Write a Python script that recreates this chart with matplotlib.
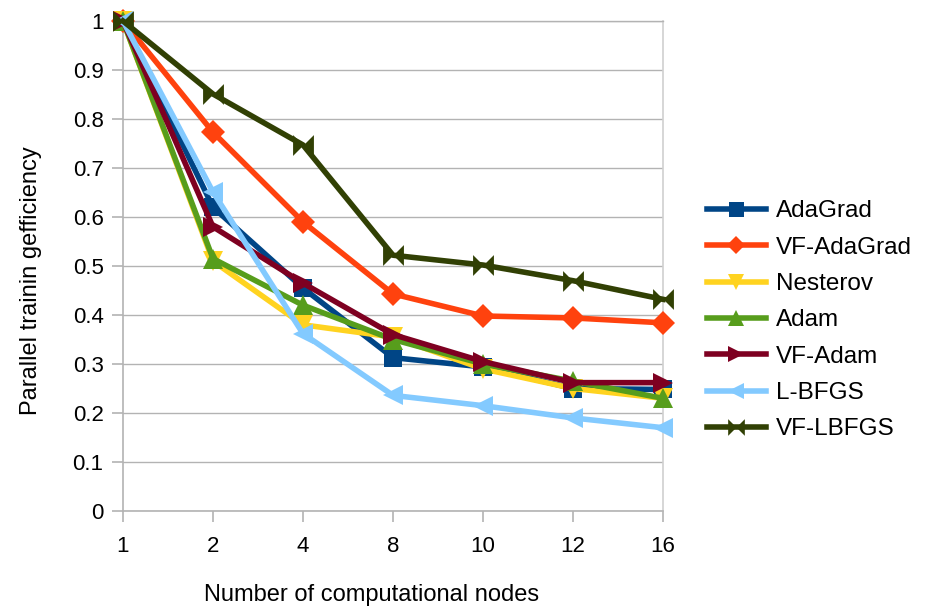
import numpy as np
import matplotlib.pyplot as plt
from matplotlib.path import Path

plt.rcParams['font.family'] = ['Liberation Sans', 'DejaVu Sans']

nodes = ["1", "2", "4", "8", "10", "12", "16"]

adagrad = [1.0, 0.62, 0.455, 0.313, 0.294, 0.25, 0.248]
vf_adagrad = [1.0, 0.773, 0.59, 0.443, 0.398, 0.394, 0.384]
nesterov = [1.0, 0.51, 0.38, 0.355, 0.29, 0.25, 0.23]
adam = [1.0, 0.515, 0.42, 0.35, 0.30, 0.265, 0.23]
vf_adam = [1.0, 0.58, 0.465, 0.36, 0.305, 0.262, 0.262]
lbfgs = [1.0, 0.651, 0.362, 0.236, 0.215, 0.19, 0.17]
vf_lbfgs = [1.0, 0.851, 0.747, 0.522, 0.502, 0.47, 0.432]

names = ["AdaGrad", "VF-AdaGrad", "Nesterov", "Adam", "VF-Adam", "L-BFGS", "VF-LBFGS"]
series = [adagrad, vf_adagrad, nesterov, adam, vf_adam, lbfgs, vf_lbfgs]
colors = ["#004586", "#ff420e", "#ffd320", "#579d1c", "#7e0021", "#83caff", "#314004"]

# bowtie marker: two triangles meeting in the middle
bowtie = Path(
    [(-1, 1), (0, 0), (-1, -1), (-1, 1), (1, 1), (0, 0), (1, -1), (1, 1)],
    [Path.MOVETO, Path.LINETO, Path.LINETO, Path.CLOSEPOLY,
     Path.MOVETO, Path.LINETO, Path.LINETO, Path.CLOSEPOLY],
)
markers = ["s", "D", "v", "^", ">", "<", bowtie]
msizes = [13.5, 12, 15, 15, 15, 15, 15]

fig = plt.figure(figsize=(9.28, 6.08), dpi=100)
ax = fig.add_axes([0.1325, 0.1595, 0.582, 0.806])

x = np.arange(len(nodes))
for vals, name, c, m, ms in zip(series, names, colors, markers, msizes):
    ax.plot(x, vals, color=c, lw=4, marker=m, markersize=ms,
            markeredgewidth=0, label=name, clip_on=False, zorder=3)

ax.set_xlim(0, len(nodes) - 1)
ax.set_ylim(0, 1)
ax.set_xticks(x)
ax.set_xticklabels(nodes)
ax.set_yticks(np.arange(0, 1.01, 0.1))
ax.set_yticklabels(["0", "0.1", "0.2", "0.3", "0.4", "0.5", "0.6", "0.7", "0.8", "0.9", "1"])

ax.yaxis.grid(True, color="#b3b3b3", lw=1)
ax.set_axisbelow(True)
for side in ["left", "bottom"]:
    ax.spines[side].set_color("#b3b3b3")
    ax.spines[side].set_linewidth(1.2)
ax.spines["right"].set_color("#d0d0d0")
ax.spines["right"].set_linewidth(1.2)
ax.spines["top"].set_color("#b3b3b3")
ax.spines["top"].set_linewidth(1)

ax.tick_params(axis="both", colors="#b3b3b3", length=8, width=1.2, labelsize=16,
               labelcolor="black")
ax.tick_params(axis="x", pad=10)
ax.tick_params(axis="y", pad=6)

ax.set_xlabel("Number of computational nodes", fontsize=17)
ax.set_ylabel("Parallel trainin gefficiency", fontsize=17)
ax.xaxis.set_label_coords(0.461, -0.149)
ax.yaxis.set_label_coords(-0.15, 0.471)

ax.legend(loc="center left", bbox_to_anchor=(1.04, 0.389), frameon=False,
          fontsize=17.5, handlelength=2.45, handletextpad=0.41, labelspacing=0.59,
          markerscale=0.8, numpoints=1)

fig.savefig("out.png", dpi=100)
